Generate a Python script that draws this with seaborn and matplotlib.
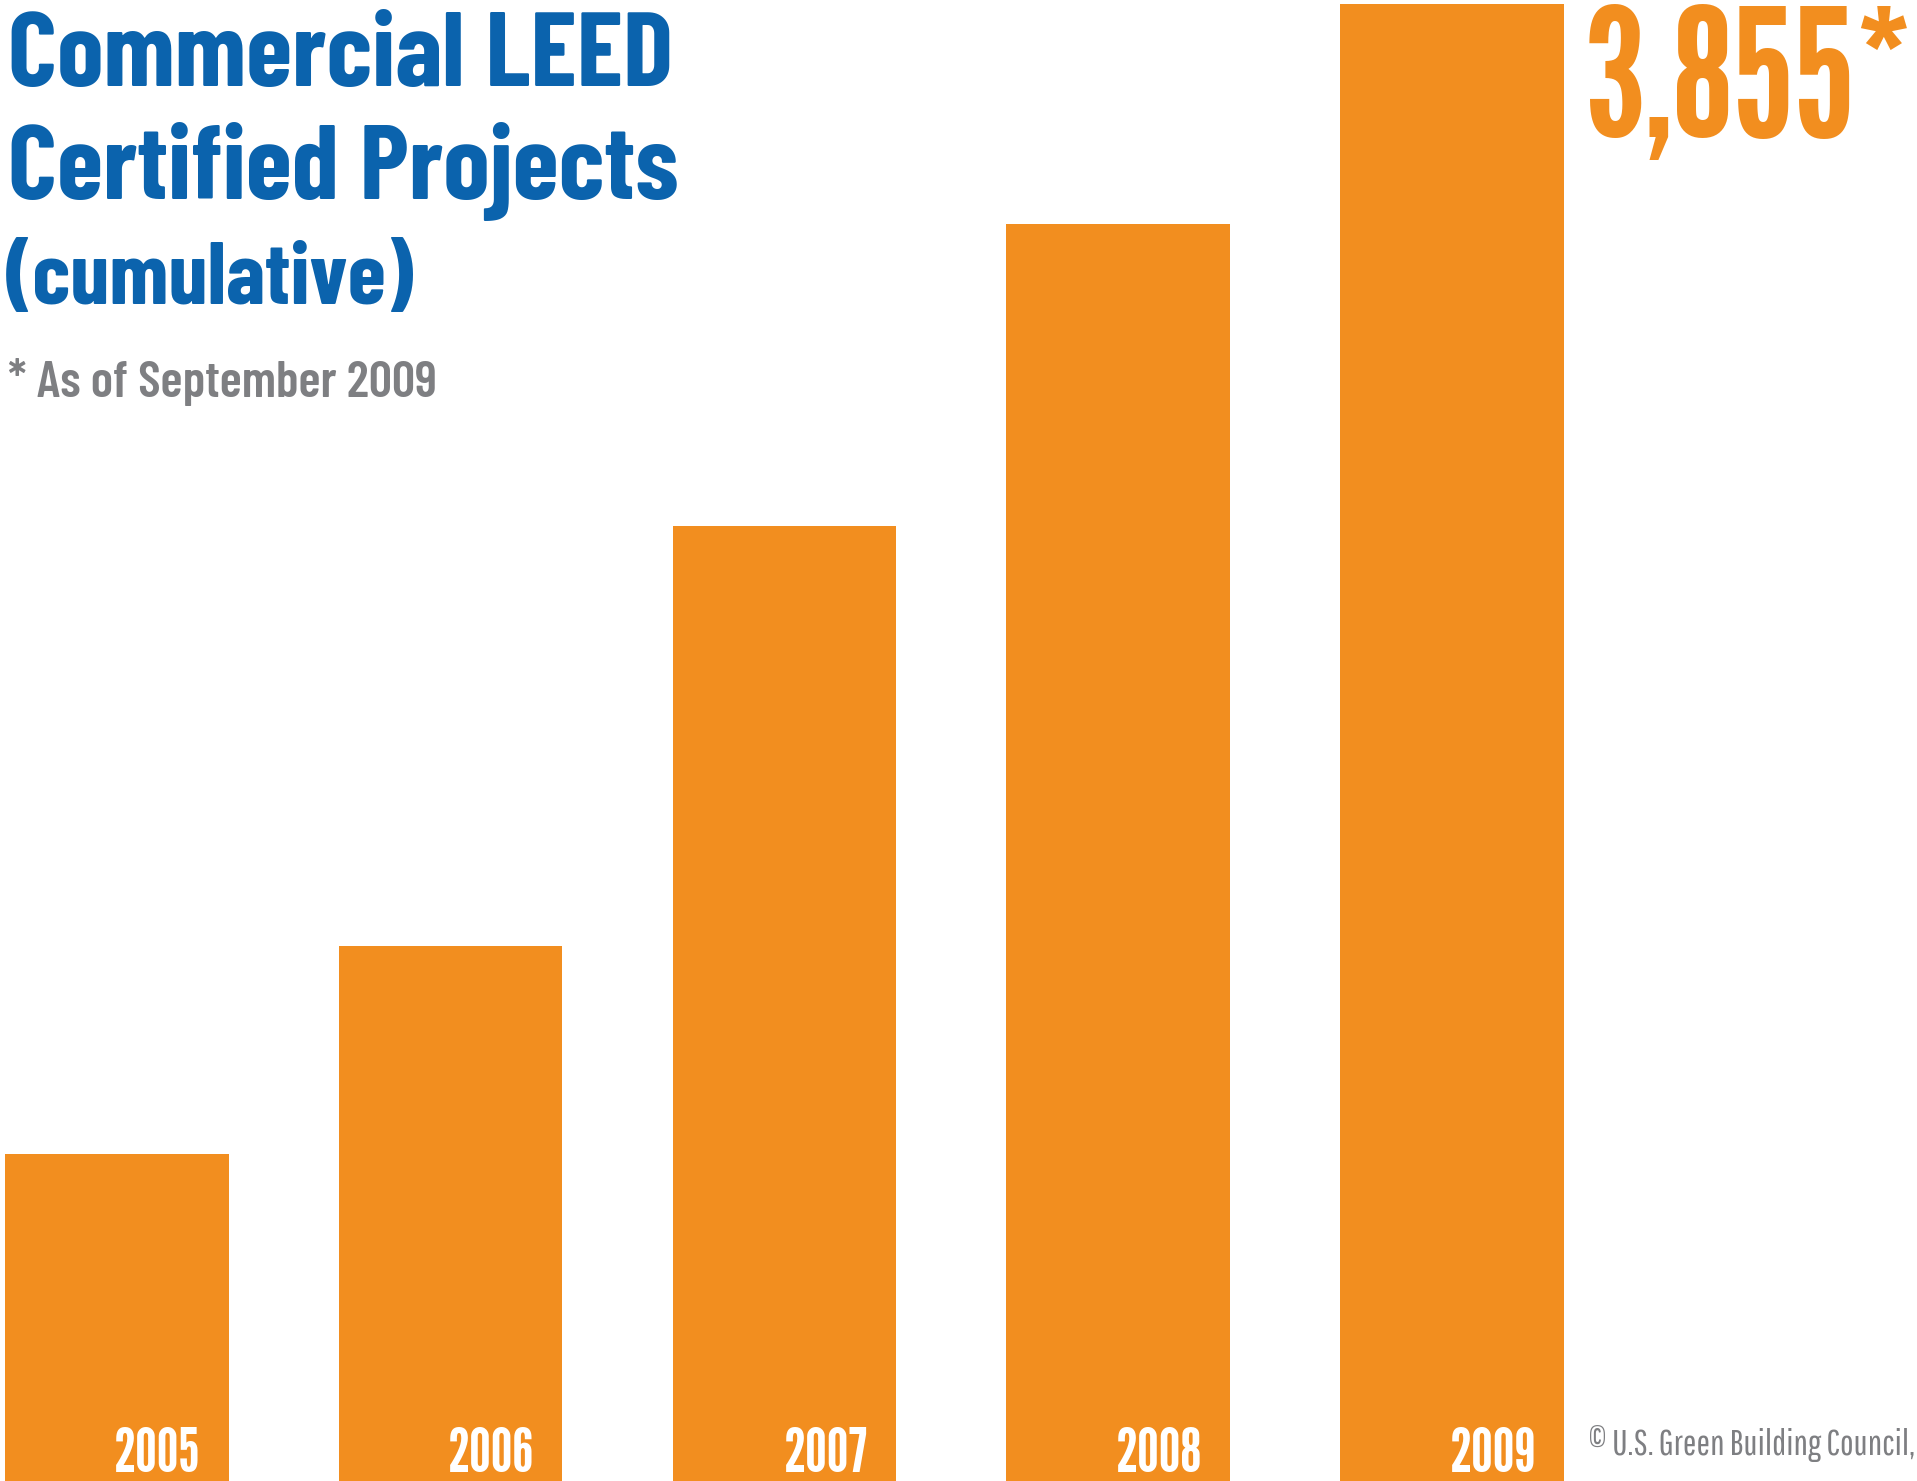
import matplotlib
matplotlib.use("Agg")
import matplotlib.pyplot as plt
import matplotlib.transforms as mtransforms
import seaborn as sns
import pandas as pd

# ---- data ----
years = ["2005", "2006", "2007", "2008", "2009"]
projects = [853, 1396, 2493, 3281, 3855]
title_lines = ["Commercial LEED", "Certified Projects"]
subtitle = "(cumulative)"
note = "* As of September 2009"
highlight = "3,855*"
credit = "\u00a9 U.S. Green Building Council,"

ORANGE = "#F28E1F"
BLUE = "#0B63AD"
GRAY = "#7E7F82"

W, H = 1917, 1481
sns.set_theme(style="white")
plt.rcParams["font.family"] = ["Barlow Condensed", "Fira Sans Extra Condensed", "DejaVu Sans"]

fig = plt.figure(figsize=(W / 100, H / 100), dpi=100)
fig.patch.set_facecolor("white")
ax = fig.add_axes([0, 0, 1, 1])
df = pd.DataFrame({"year": years, "projects": projects})
sns.barplot(data=df, x="year", y="projects", color=ORANGE, saturation=1,
            width=0.67, ax=ax, linewidth=0)
ax.set_xlim(-0.350, 5.393)
ax.set_ylim(0, 3866)
ax.axis("off")

def fx(px):
    return px / W

def fy(py):
    return 1 - py / H

TITLE_FONT = ["Barlow Condensed", "Fira Sans Extra Condensed", "DejaVu Sans"]
TALL_FONT = ["League Gothic", "Oswald", "Fira Sans Extra Condensed", "DejaVu Sans"]

fig.text(fx(8), fy(86), title_lines[0], color=BLUE, fontsize=76, fontweight="bold",
         family=TITLE_FONT, va="baseline", ha="left")
fig.text(fx(8), fy(199), title_lines[1], color=BLUE, fontsize=76, fontweight="bold",
         family=TITLE_FONT, va="baseline", ha="left")
fig.text(fx(6), fy(304), subtitle, color=BLUE, fontsize=63, fontweight="bold",
         family=TITLE_FONT, va="baseline", ha="left")
fig.text(fx(8), fy(397), note, color=GRAY, fontsize=37, fontweight="semibold",
         family=TITLE_FONT, va="baseline", ha="left")

fig.text(fx(1914), fy(137), highlight, color=ORANGE, fontsize=128, fontweight="bold",
         family=TALL_FONT, va="baseline", ha="right")

fig.text(fx(1915), fy(1455), credit, color=GRAY, fontsize=26, fontweight="light",
         family=["Pathway Gothic One", "Fira Sans Extra Condensed", "Barlow Condensed", "DejaVu Sans"],
         va="baseline", ha="right")

trans = mtransforms.blended_transform_factory(ax.transData, ax.transAxes)
for i, y in enumerate(years):
    ax.text(i + 0.335 - 28 / 334, 9 / H, y, color="white", fontsize=44, fontweight="bold",
            family=TALL_FONT, transform=trans, ha="right", va="baseline")

fig.savefig("out.png", dpi=100, facecolor="white")
